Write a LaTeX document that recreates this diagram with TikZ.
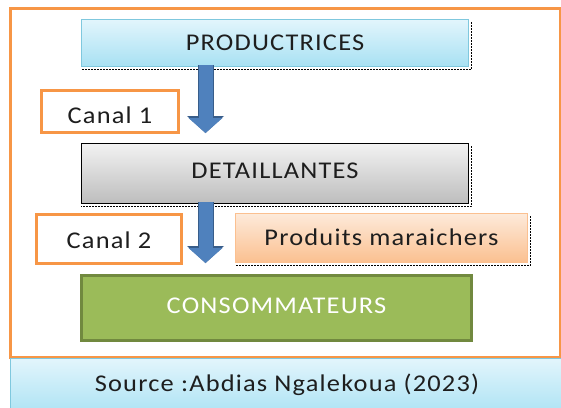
\documentclass[tikz,border=0pt]{standalone}
\usepackage{fontspec}
\setmainfont{Carlito}[FakeStretch=1.1, LetterSpace=5]
\usetikzlibrary{arrows.meta}

\definecolor{cadre}{HTML}{F79646}
\definecolor{texte}{HTML}{1E1E1E}
\definecolor{bleuclair}{HTML}{E2F5FC}
\definecolor{bleufonce}{HTML}{A8E1F3}
\definecolor{bleubord}{HTML}{7FC8DE}
\definecolor{grisclair}{HTML}{F2F2F2}
\definecolor{grisfonce}{HTML}{BDBDBD}
\definecolor{orclair}{HTML}{FDEADA}
\definecolor{orfonce}{HTML}{FBC090}
\definecolor{vert}{HTML}{9BBB59}
\definecolor{vertbord}{HTML}{71893F}
\definecolor{fleche}{HTML}{4F81BD}
\definecolor{flechebord}{HTML}{385D8A}

\begin{document}
\begin{tikzpicture}[x=1pt, y=-1pt, every node/.style={font=\fontsize{24}{28}\selectfont, text=texte}]

\tikzstyle{boite}=[rectangle, inner sep=0pt, anchor=north west, text height=15.5pt, text depth=0pt]
\tikzstyle{acteur}=[boite, draw=bleubord, line width=1pt, top color=bleuclair, bottom color=bleufonce]
\tikzstyle{canal}=[boite, draw=cadre, line width=3pt, fill=white]
\tikzstyle{ombre}=[black, line width=1pt, dash pattern=on 2pt off 1pt]
\tikzstyle{grosse fleche}=[draw=fleche, line width=14pt, -{Triangle[length=15pt, width=34pt, line width=0pt]},
  preaction={draw=flechebord, line width=16pt, -{Triangle[length=17pt, width=37pt, line width=0pt]}}]

\useasboundingbox (0,0) rectangle (561,407);
\clip (0,0) rectangle (561,407);
\fill[white] (0,0) rectangle (561,407);

% cadre general
\draw[cadre, line width=3pt] (10,8.5) rectangle (560,357.5);

% acteurs de la chaine
\node[acteur, minimum width=387pt, minimum height=47pt] (prod) at (81,19) {PRODUCTRICES};
\node[boite, draw=black, line width=1pt, top color=grisclair, bottom color=grisfonce,
  minimum width=387pt, minimum height=60pt, text depth=6pt] (det) at (81,143) {DETAILLANTES};
\node[boite, draw=vertbord, line width=3pt, fill=vert, text=white,
  minimum width=390pt, minimum height=65pt, text depth=4pt] (cons) at (80,274) {CONSOMMATEURS};

% canaux et produits
\node[canal, minimum width=137pt, minimum height=42pt, text height=23pt] (canal1) at (40,89) {Canal 1};
\node[canal, minimum width=145pt, minimum height=49pt, text height=19.5pt] (canal2) at (35,213) {Canal 2};
\node[boite, draw=orfonce, line width=1pt, top color=orclair, bottom color=orfonce,
  minimum width=292pt, minimum height=49pt] (maraich) at (235,213) {Produits maraichers};

% ombres
\foreach \n in {prod,det,maraich}
  \draw[ombre] ([xshift=2.5pt,yshift=-3pt]\n.north east) -- ([xshift=2.5pt,yshift=-2pt]\n.south east) -- ([yshift=-2pt]\n.south west);

% fleches
\coordinate (axe) at (205.5,0);
\draw[grosse fleche, shorten <=-2pt, shorten >=10pt] (prod.south -| axe) -- (det.north -| axe);
\draw[grosse fleche, shorten <=-2pt, shorten >=11pt] (det.south -| axe) -- (cons.north -| axe);

% source
\node[boite, draw=bleubord, line width=1pt, top color=bleuclair, bottom color=bleufonce,
  minimum width=600pt, minimum height=60pt] (source) at (10,358) {};
\node[text height=15.5pt, text depth=0pt, inner sep=0pt] (ref) at (287,383.5) {Source :Abdias Ngalekoua (2023)};

\end{tikzpicture}
\end{document}
